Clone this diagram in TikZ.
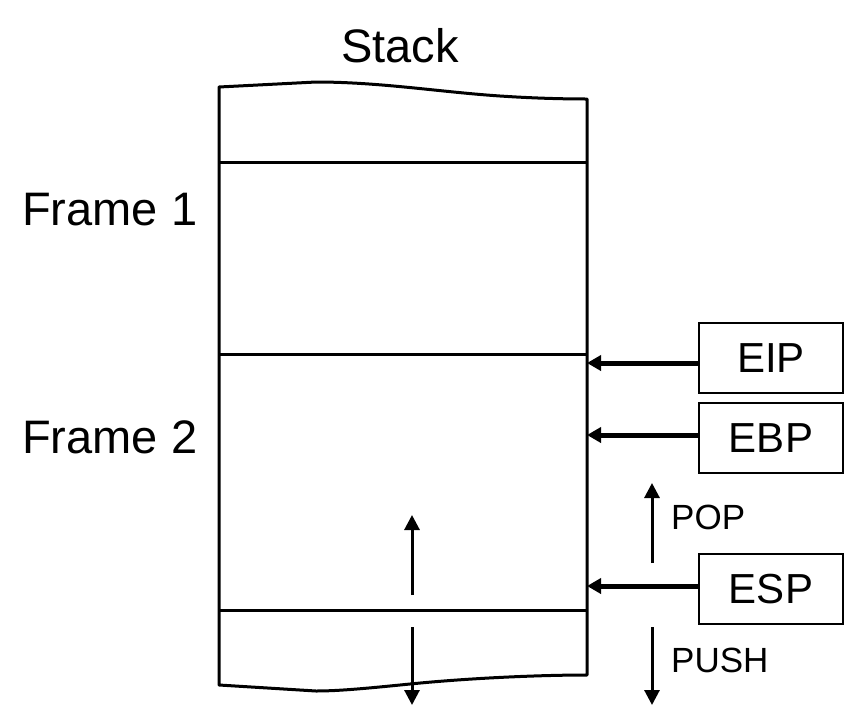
\documentclass[tikz,border=0pt]{standalone}
\usepackage{fontspec}
\setmainfont{Liberation Sans}
\usetikzlibrary{arrows.meta}
\begin{document}
\begin{tikzpicture}[x=1pt,y=-1pt,
  big/.style={font=\fontsize{47}{50}\selectfont},
  regbox/.style={draw,line width=2.5pt,minimum width=144pt,minimum height=70pt,inner sep=0pt,
     font=\fontsize{42}{46}\selectfont},
  small/.style={font=\fontsize{35}{40}\selectfont,anchor=west,inner sep=0pt},
  ptr/.style={line width=5pt,-{Triangle[length=14pt,width=15pt]}},
  dir/.style={line width=3pt,-{Triangle[length=15pt,width=15pt]}},
  stk/.style={line width=3pt}]
\useasboundingbox (0,0) rectangle (844,705);
% stack outline
\coordinate (tl) at (219,87);
\coordinate (tr) at (587,99);
\coordinate (bl) at (219,685);
\coordinate (br) at (587,675);
\draw[stk,line join=round] (tl) -- (316,82) .. controls (380,82) and (440,92) .. (500,96)
   .. controls (530,98) and (560,99) .. (tr) -- (br)
   .. controls (540,675) and (470,678) .. (410,684)
   .. controls (370,688) and (340,691) .. (316,691) -- (bl) -- cycle;
% dividers
\coordinate (d1l) at (219,162); \coordinate (d1r) at (587,162);
\coordinate (d2l) at (219,354); \coordinate (d2r) at (587,354);
\coordinate (d3l) at (219,610); \coordinate (d3r) at (587,610);
\draw[stk] (d1l) -- (d1r);
\draw[stk] (d2l) -- (d2r);
\draw[stk] (d3l) -- (d3r);
% labels
\node[big] (stack) at (400,46) {Stack};
\node[big,anchor=west,inner sep=0pt] (f1) at (22,210) {Frame 1};
\node[big,anchor=west,inner sep=0pt] (f2) at (22,437) {Frame 2};
% registers
\node[regbox] (eip) at (771,358) {EIP};
\node[regbox] (ebp) at (771,438) {EBP};
\node[regbox] (esp) at (771,589) {ESP};
\coordinate (peip) at (587,363);
\coordinate (pebp) at (587,435);
\coordinate (pesp) at (587,586);
\draw[ptr] ([yshift=-5pt]eip.west) -- (peip);
\draw[ptr] ([yshift=3pt]ebp.west) -- (pebp);
\draw[ptr] ([yshift=3pt]esp.west) -- (pesp);
% direction arrows
\coordinate (ua0) at (412,595); \coordinate (ua1) at (412,515);
\coordinate (da0) at (412,627); \coordinate (da1) at (412,705);
\draw[dir] (ua0) -- (ua1);
\draw[dir] (da0) -- (da1);
\coordinate (pa0) at (652,563); \coordinate (pa1) at (652,483);
\coordinate (qa0) at (652,627); \coordinate (qa1) at (652,705);
\draw[dir] (pa0) -- (pa1);
\draw[dir] (qa0) -- (qa1);
\node[small] (pop) at (671,517) {POP};
\node[small] (push) at (671,660) {PUSH};
\end{tikzpicture}
\end{document}
